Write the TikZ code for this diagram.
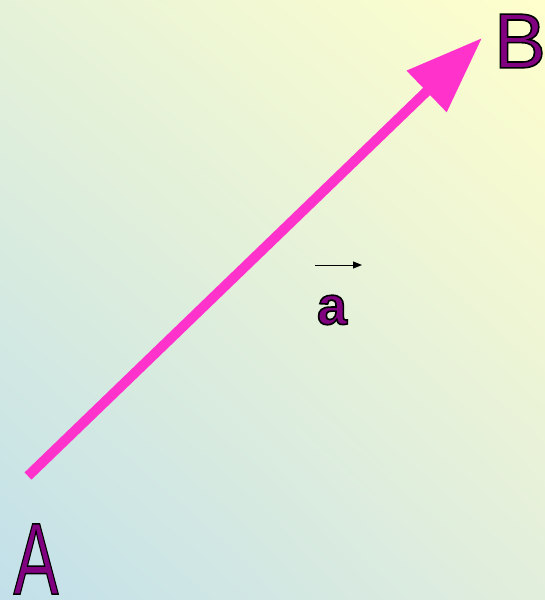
\documentclass[tikz,border=0pt]{standalone}
\usepackage{fontspec}
\setmainfont{Liberation Sans}
\usetikzlibrary{arrows.meta,shadings}
\definecolor{skyfade}{HTML}{C2E0EA}
\definecolor{lemonfade}{HTML}{FFFFCC}
\definecolor{leafwash}{HTML}{E6F2D8}
\definecolor{mintfade}{HTML}{E2EEDC}
\definecolor{vecpink}{HTML}{FF33CC}
\definecolor{letterplum}{HTML}{800080}
% outlined letters: fill in plum, stroke in black
\newcommand{\outlined}[1]{\special{pdf:literal direct 0 0 0 RG 2 Tr 1.6 w}#1\special{pdf:literal direct 0 Tr}}

\begin{document}
\begin{tikzpicture}[
  x=1pt, y=-1pt,
  every node/.style={inner sep=0pt, text=letterplum},
  endlabel/.style={font=\fontsize{102}{102}\selectfont},
  veclabel/.style={font=\bfseries\fontsize{54}{54}\selectfont},
  bigvec/.style={-{Triangle[length=77pt, width=55pt]}, line width=10pt, draw=vecpink},
  smallvec/.style={-{Triangle[length=9pt, width=7pt]}, line width=1pt, draw=black}
]
\useasboundingbox (0,0) rectangle (545,600);
\shade[lower left=skyfade, upper right=lemonfade, upper left=leafwash, lower right=mintfade]
  (0,600) rectangle (545,0);
% end points of the vector
\coordinate (start) at (28,476);
\coordinate (tip) at (482,38);
\draw[bigvec] (start) -- (tip);
% labels
\node[endlabel, xscale=0.66] (labA) at (36,559) {\outlined{A}};
\node[endlabel, font=\fontsize{78}{78}\selectfont] (labB) at (520,41) {\outlined{B}};
\node[veclabel] (labvec) at (332,310) {\outlined{a}};
\coordinate (barL) at (315,265);
\coordinate (barR) at (362,265);
\draw[smallvec] (barL) -- (barR);
\end{tikzpicture}
\end{document}
